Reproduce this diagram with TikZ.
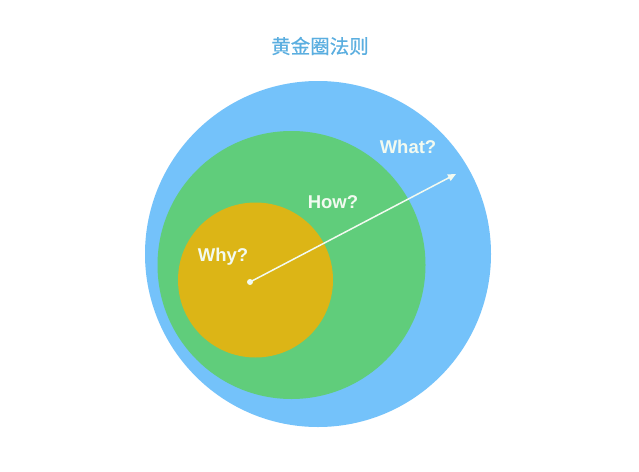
\documentclass[tikz,border=0pt]{standalone}
\usepackage{fontspec}
\setmainfont{Liberation Sans}
\newfontfamily\cjk[FakeBold=0.5]{Noto Sans CJK SC}
\usetikzlibrary{arrows.meta}
\definecolor{outerblue}{RGB}{116,194,250}
\definecolor{midgreen}{RGB}{96,205,123}
\definecolor{inneryellow}{RGB}{220,181,22}
\definecolor{titleblue}{RGB}{90,174,224}
\definecolor{labelwhite}{RGB}{242,250,240}
\begin{document}
\begin{tikzpicture}[x=1pt,y=-1pt,
  ring/.style={circle,inner sep=0pt,minimum size=#1},
  qlabel/.style={text=labelwhite,font=\fontsize{18.5}{20}\selectfont\bfseries,inner sep=0pt},
  pointer/.style={labelwhite,line width=1.5pt,-{Triangle[length=8pt,width=7pt]}}]
\useasboundingbox (0,0) rectangle (639,471);
\fill[white] (0,0) rectangle (639,471);
\node (title) at (320,46) {\cjk\color{titleblue}\fontsize{19.5}{22}\selectfont 黄金圈法则};
\node[ring=346pt,fill=outerblue] (what) at (318,254) {};
\node[ring=268pt,fill=midgreen] (how) at (291.5,265) {};
\node[ring=155pt,fill=inneryellow] (why) at (255.5,280) {};
\node[qlabel] (whatlbl) at (408,147) {What?};
\node[qlabel] (howlbl) at (333,202) {How?};
\node[qlabel] (whylbl) at (223,257) {Why?};
\coordinate (start) at (250,282);
\coordinate (tip) at (456,174);
\fill[labelwhite] (start) circle (3pt);
\draw[pointer] (start) -- (tip);
\end{tikzpicture}
\end{document}
